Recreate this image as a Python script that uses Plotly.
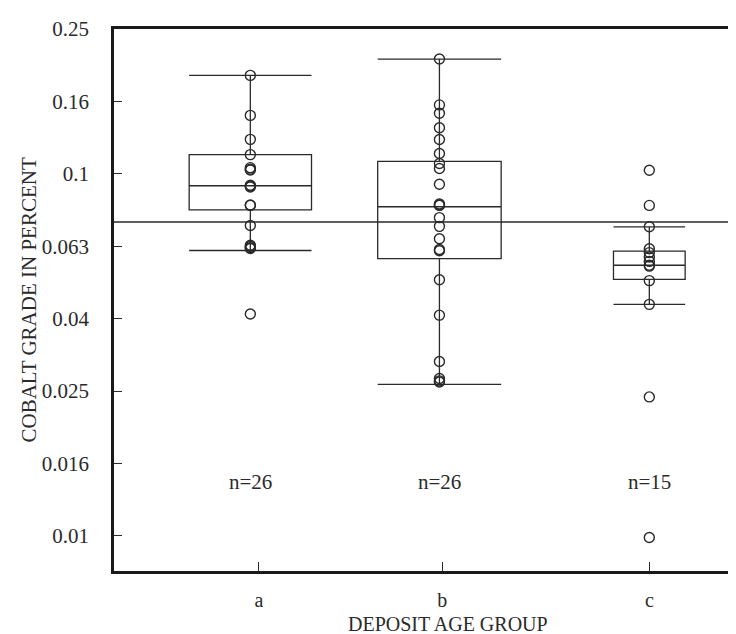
import math
import plotly.graph_objects as go

# ---------------- data ----------------
GROUPS = ["a", "b", "c"]
N_COUNTS = [26, 26, 15]

GRADE_A = [0.187, 0.145, 0.1245, 0.113, 0.104, 0.1025, 0.103, 0.093, 0.0925,
           0.092, 0.082, 0.0818, 0.072, 0.0635, 0.063, 0.0625, 0.0622, 0.041]
GRADE_B = [0.2075, 0.155, 0.147, 0.134, 0.1244, 0.1138, 0.1068, 0.1034, 0.0936,
           0.0825, 0.082, 0.0818, 0.0757, 0.0716, 0.0662, 0.0618, 0.0613, 0.051,
           0.0407, 0.0303, 0.0272, 0.0268, 0.0266]
GRADE_C = [0.1023, 0.0818, 0.0714, 0.0621, 0.0606, 0.0589, 0.0573, 0.0559,
           0.0556, 0.0507, 0.0436, 0.0242, 0.0099]

Q1 = [0.0795, 0.0583, 0.0511]
MEDIAN = [0.0927, 0.0811, 0.0559]
Q3 = [0.113, 0.1083, 0.0612]
LOWER_WHISKER = [0.0614, 0.0262, 0.0436]
UPPER_WHISKER = [0.187, 0.2075, 0.0714]
OVERALL_MEDIAN = 0.0736

Y_TICK_LABELS = ["0.01", "0.016", "0.025", "0.04", "0.063", "0.1", "0.16", "0.25"]

# ---------------- layout helpers ----------------
GROUP_X = [1.0, 2.0, 3.11]
TICK_X = [1.045, 2.015, 3.11]
BOX_WIDTH = [0.647, 0.653, 0.379]
FONT = "Liberation Serif"
INK = "#2a2a2a"

fig = go.Figure()

for i, g in enumerate(GROUPS):
    fig.add_trace(go.Box(
        x=[GROUP_X[i]], q1=[Q1[i]], median=[MEDIAN[i]], q3=[Q3[i]],
        lowerfence=[LOWER_WHISKER[i]], upperfence=[UPPER_WHISKER[i]],
        width=BOX_WIDTH[i], whiskerwidth=1, boxpoints=False,
        fillcolor="rgba(0,0,0,0)", line=dict(color=INK, width=1.3),
        showlegend=False, hoverinfo="skip",
    ))

for i, vals in enumerate([GRADE_A, GRADE_B, GRADE_C]):
    fig.add_trace(go.Scatter(
        x=[GROUP_X[i]] * len(vals), y=vals, mode="markers",
        marker=dict(symbol="circle-open", size=10, color=INK,
                    line=dict(width=1.4, color=INK)),
        showlegend=False, hoverinfo="y",
    ))

fig.add_shape(type="line", xref="paper", x0=0, x1=1, yref="y",
              y0=OVERALL_MEDIAN, y1=OVERALL_MEDIAN,
              line=dict(color=INK, width=1.4))

for i, n in enumerate(N_COUNTS):
    fig.add_annotation(x=GROUP_X[i], y=math.log10(0.0141), text=f"n={n}",
                       showarrow=False, font=dict(family=FONT, size=21, color=INK))

fig.add_annotation(xref="paper", yref="paper", x=-0.137, y=0.5,
                   text="COBALT GRADE IN PERCENT", textangle=-90, showarrow=False,
                   xanchor="center", yanchor="middle",
                   font=dict(family=FONT, size=21, color=INK))
fig.add_annotation(xref="paper", yref="paper", x=0.535, y=-0.098,
                   text="DEPOSIT AGE GROUP", showarrow=False,
                   xanchor="center", yanchor="middle",
                   font=dict(family=FONT, size=20, color=INK))

fig.update_layout(
    width=736, height=634,
    margin=dict(l=106, r=3, t=21, b=71),
    paper_bgcolor="white", plot_bgcolor="white",
    font=dict(family=FONT, size=20, color=INK),
    xaxis=dict(
        range=[0.279, 3.579], tickmode="array", tickvals=TICK_X, ticktext=GROUPS,
        ticks="inside", ticklen=9, tickwidth=1.3, tickcolor=INK,
        showline=True, linewidth=2.5, linecolor="#1a1a1a", mirror=True,
        showgrid=False, zeroline=False, ticklabelstandoff=9,
        tickfont=dict(family=FONT, size=20, color=INK),
    ),
    yaxis=dict(
        type="log", range=[-2.097, -0.6], tickmode="array",
        tickvals=[10 ** (-2 + k / 5) for k in range(len(Y_TICK_LABELS))],
        ticktext=Y_TICK_LABELS,
        ticks="inside", ticklen=8, tickwidth=1.3, tickcolor=INK,
        showline=True, linewidth=2.5, linecolor="#1a1a1a", mirror=True,
        showgrid=False, zeroline=False, ticklabelstandoff=18,
        tickfont=dict(family=FONT, size=21, color=INK),
    ),
)

fig.write_html("out.html")
